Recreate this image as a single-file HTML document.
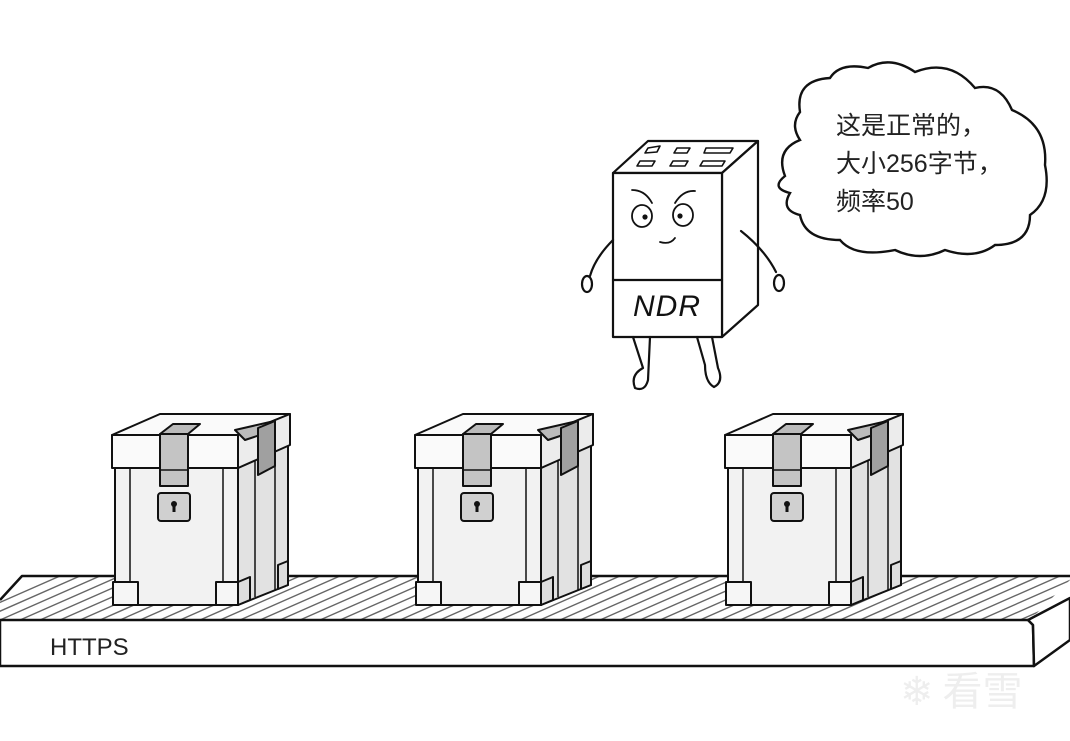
<!DOCTYPE html>
<html><head><meta charset="utf-8"><style>
html,body{margin:0;padding:0;background:#fff;width:1070px;height:741px;overflow:hidden}
svg{display:block}
</style></head><body>
<svg width="1070" height="741" viewBox="0 0 1070 741" xmlns="http://www.w3.org/2000/svg">
<defs>
<clipPath id="belt"><polygon points="0,600 20,576 1070,576 1070,580 1030,620 0,620"/></clipPath>
<g id="box" stroke="#111" stroke-width="2" stroke-linejoin="round">
  <polygon points="238,468 288,445 288,585 238,605" fill="#e2e2e2"/>
  <line x1="255" y1="460" x2="255" y2="597" stroke-width="1.5"/>
  <line x1="275" y1="451" x2="275" y2="590" stroke-width="1.5"/>
  <rect x="115" y="468" width="123" height="137" fill="#f2f2f2"/>
  <line x1="130" y1="468" x2="130" y2="582" stroke-width="1.5"/>
  <line x1="223" y1="468" x2="223" y2="582" stroke-width="1.5"/>
  <rect x="113" y="582" width="25" height="23" fill="#f6f6f6"/>
  <polygon points="216,582 238,582 238,605 216,605" fill="#f6f6f6"/>
  <polygon points="238,582 250,577 250,600 238,605" fill="#ddd"/>
  <polygon points="278,565 288,561 288,585 278,589" fill="#ddd"/>
  <polygon points="112,435 160,414 290,414 238,435" fill="#fafafa"/>
  <polygon points="238,435 290,414 290,445 238,468" fill="#ececec"/>
  <rect x="112" y="435" width="126" height="33" fill="#fafafa"/>
  <polygon points="160,434 173,424 200,424 188,434" fill="#bbb"/>
  <rect x="160" y="434" width="28" height="52" fill="#c4c4c4"/>
  <line x1="160" y1="470" x2="188" y2="470" stroke-width="1.5"/>
  <polygon points="235,430 270,422 275,430 245,440" fill="#bbb"/>
  <polygon points="258,428 275,421 275,466 258,475" fill="#a0a0a0"/>
  <rect x="158" y="493" width="32" height="28" rx="3" fill="#d0d0d0"/>
  <circle cx="174" cy="504" r="3" fill="#111" stroke="none"/>
  <rect x="172.5" y="505" width="3" height="7" fill="#111" stroke="none"/>
</g>
</defs>

<g clip-path="url(#belt)" stroke="#666" stroke-width="1.4">
<path d="M-40,620 L60,576 M-20,620 L80,576 M0,620 L100,576 M20,620 L120,576 M40,620 L140,576 M60,620 L160,576 M80,620 L180,576 M100,620 L200,576 M120,620 L220,576 M140,620 L240,576 M160,620 L260,576 M180,620 L280,576 M200,620 L300,576 M220,620 L320,576 M240,620 L340,576 M260,620 L360,576 M280,620 L380,576 M300,620 L400,576 M320,620 L420,576 M340,620 L440,576 M360,620 L460,576 M380,620 L480,576 M400,620 L500,576 M420,620 L520,576 M440,620 L540,576 M460,620 L560,576 M480,620 L580,576 M500,620 L600,576 M520,620 L620,576 M540,620 L640,576 M560,620 L660,576 M580,620 L680,576 M600,620 L700,576 M620,620 L720,576 M640,620 L740,576 M660,620 L760,576 M680,620 L780,576 M700,620 L800,576 M720,620 L820,576 M740,620 L840,576 M760,620 L860,576 M780,620 L880,576 M800,620 L900,576 M820,620 L920,576 M840,620 L940,576 M860,620 L960,576 M880,620 L980,576 M900,620 L1000,576 M920,620 L1020,576 M940,620 L1040,576 M960,620 L1060,576 M980,620 L1080,576 M1000,620 L1100,576 M1020,620 L1120,576"/>
</g>
<g stroke="#111" stroke-width="2.5" fill="none" stroke-linejoin="round">
  <polyline points="0,600 22,576 1070,576"/>
  <polygon points="0,620 1028,620 1033,625 1034,666 0,666" fill="#fff"/>
  <polygon points="1028,620 1070,598 1070,640 1034,666 1033,625" fill="#fff"/>
</g>
<text x="50" y="655" font-family="Liberation Sans, sans-serif" font-size="24" fill="#222">HTTPS</text>

<use href="#box"/>
<use href="#box" x="303"/>
<use href="#box" x="613"/>

<g stroke="#111" stroke-width="2.2" fill="none" stroke-linecap="round" stroke-linejoin="round">
  <polygon points="613,173 648,141 758,141 722,173" fill="#fff"/>
  <polygon points="722,173 758,141 758,305 722,337" fill="#fff"/>
  <rect x="613" y="173" width="109" height="164" fill="#fff"/>
  <line x1="613" y1="280" x2="722" y2="280"/>
  <g stroke-width="1.6">
    <polygon points="648,148 660,146 657,152 645,153"/>
    <polygon points="677,148 690,148 687,153 674,153"/>
    <polygon points="706,148 733,148 730,153 704,153"/>
    <polygon points="640,161 655,161 652,166 637,166"/>
    <polygon points="673,161 688,161 685,166 670,166"/>
    <polygon points="703,161 725,161 722,166 700,166"/>
  </g>
  <path d="M632,190 Q645,190 652,203" stroke-width="1.8"/>
  <path d="M675,203 Q683,190 695,191" stroke-width="1.8"/>
  <ellipse cx="642" cy="216" rx="10" ry="11" stroke-width="1.8"/>
  <ellipse cx="683" cy="215" rx="10" ry="11" stroke-width="1.8"/>
  <circle cx="645" cy="217" r="1.5" fill="#111"/>
  <circle cx="680" cy="216" r="1.5" fill="#111"/>
  <path d="M660,242 Q670,245 675,238" stroke-width="1.8"/>
  <path d="M613,240 Q595,258 590,276"/>
  <ellipse cx="587" cy="284" rx="5" ry="8"/>
  <path d="M741,231 Q765,250 776,272"/>
  <ellipse cx="779" cy="283" rx="5" ry="8"/>
  <path d="M633,337 L643,368 Q630,375 635,388 Q645,392 648,380 L650,337"/>
  <path d="M697,337 L705,365 Q705,382 714,387 Q724,382 718,368 L712,337"/>
</g>
<text x="633" y="316" font-family="Liberation Sans, sans-serif" font-style="italic" font-size="30" fill="#111" letter-spacing="1">NDR</text>

<path d="M800,112 Q795,80 830,78 Q840,62 868,68 Q890,55 915,72 Q950,58 975,88 Q1000,82 1012,110 Q1048,125 1045,165 Q1052,200 1030,215 Q1030,245 995,245 Q975,260 945,250 Q920,262 895,250 Q855,258 840,240 Q805,240 800,215 Q780,210 790,193 Q770,188 785,176 Q775,150 800,140 Q790,125 800,112 Z" fill="#fff" stroke="#111" stroke-width="2.4"/>
<g font-family="Liberation Sans, 'Noto Sans CJK SC', sans-serif" font-size="25" fill="#222">
  <text x="836" y="134">这是正常的，</text>
  <text x="836" y="172">大小256字节，</text>
  <text x="836" y="210">频率50</text>
</g>

<text x="900" y="705" font-family="'Noto Sans CJK SC', sans-serif" font-size="40" fill="#eee">❄ 看雪</text>
</svg>
</body></html>
